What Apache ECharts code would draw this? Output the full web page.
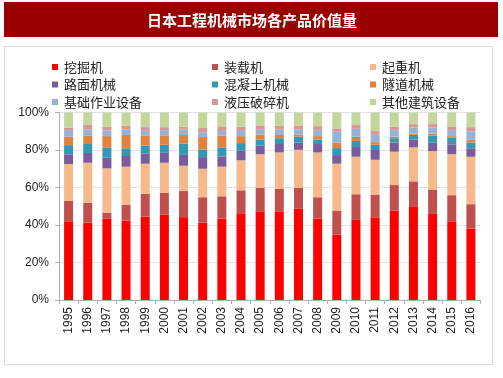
<!DOCTYPE html>
<html><head><meta charset="utf-8">
<script src="https://cdn.jsdelivr.net/npm/echarts@6/dist/echarts.min.js"></script>
<style>html,body{margin:0;padding:0;background:#fff}#c{width:503px;height:378px}</style>
</head><body><div id="c"></div>
<script>
const title = '日本工程机械市场各产品价值量';
const years = ['1995','1996','1997','1998','1999','2000','2001','2002','2003','2004','2005','2006','2007','2008','2009','2010','2011','2012','2013','2014','2015','2016'];
const yTicks = [0,20,40,60,80,100];
const names = ['挖掘机','装载机','起重机','路面机械','混凝土机械','隧道机械','基础作业设备','液压破碎机','其他建筑设备'];
const excavator = [42.0,41.3,43.3,42.3,44.5,45.6,44.2,41.3,43.4,46.3,47.3,47.0,48.6,43.4,34.8,42.7,44.1,47.7,50.0,45.9,42.0,38.1];
const loader    = [10.8,10.5, 3.3, 8.4,12.2,11.5,13.9,13.5,11.9,12.2,12.5,12.2,11.2,11.4,12.9,13.7,12.1,13.6,13.3,13.0,13.9,13.0];
const crane     = [19.7,21.4,23.6,20.4,16.0,16.1,13.5,15.2,15.8,16.0,17.9,19.5,20.3,23.9,25.0,20.0,18.6,17.8,18.1,20.5,21.9,25.3];
const paving    = [ 5.2, 5.2, 5.7, 5.7, 5.3, 5.3, 5.8, 6.2, 5.5, 5.3, 4.7, 4.5, 3.9, 4.5, 4.6, 5.2, 5.2, 4.9, 4.2, 4.6, 5.2, 4.5];
const concrete  = [ 4.9, 4.8, 5.3, 4.1, 4.4, 4.3, 6.0, 4.1, 4.8, 3.9, 3.2, 3.1, 3.1, 2.4, 3.7, 3.2, 2.8, 2.3, 2.5, 3.6, 3.5, 3.1];
const tunnel    = [ 4.5, 4.6, 6.2, 7.1, 5.4, 5.0, 4.6, 6.6, 6.2, 3.7, 2.7, 1.7, 1.2, 1.8, 3.0, 2.4, 1.4, 0.9, 0.7, 1.1, 0.9, 1.5];
const foundation= [ 3.5, 3.3, 3.0, 3.0, 2.4, 2.8, 2.9, 2.6, 2.6, 2.8, 2.8, 3.0, 2.8, 3.2, 5.7, 4.1, 3.9, 3.4, 3.2, 3.3, 3.2, 4.4];
const breaker   = [ 1.4, 2.5, 2.0, 2.0, 2.0, 1.6, 1.6, 2.2, 2.4, 2.2, 2.0, 1.9, 2.0, 2.1, 1.8, 2.0, 2.0, 1.8, 1.8, 1.8, 2.0, 2.3];
const other     = [ 8.0, 6.4, 7.6, 7.0, 7.8, 7.8, 7.5, 8.3, 7.4, 7.6, 6.9, 7.1, 6.9, 7.3, 8.5, 6.7, 9.9, 7.6, 6.2, 6.2, 7.4, 7.8];
const values = [excavator, loader, crane, paving, concrete, tunnel, foundation, breaker, other];
const colors = ['#FF0000','#C0504D','#F7B98B','#7A5B9B','#3399B3','#E2823F','#95B3D7','#D99694','#C3D69B'];

const chart = echarts.init(document.getElementById('c'), null, {renderer:'canvas'});
const legendBase = {
  orient:'vertical', top:60, itemWidth:6, itemHeight:6, itemGap:3.5, icon:'rect', itemStyle:{borderWidth:0},
  textStyle:{fontFamily:'Noto Sans CJK SC', fontSize:13, color:'#222', lineHeight:14, padding:[0,0,0,1]}, selectedMode:false, padding:0
};
chart.setOption({
  animation:false,
  backgroundColor:'#fff',
  graphic:[
    {type:'rect', shape:{x:4.5,y:46.5,width:488,height:318}, style:{fill:'none', stroke:'#dcdcdc', lineWidth:1}},
    {type:'rect', shape:{x:4,y:2,width:494,height:35}, style:{fill:'#9B0000'}},
    {type:'text', x:252, y:20, style:{text:title, fill:'#fff', font:'bold 15px "Noto Sans CJK SC"', align:'center', verticalAlign:'middle'}}
  ],
  legend:[
    Object.assign({}, legendBase, {left:52, data:[names[0],names[3],names[6]]}),
    Object.assign({}, legendBase, {left:212, data:[names[1],names[4],names[7]]}),
    Object.assign({}, legendBase, {left:370, data:[names[2],names[5],names[8]]})
  ],
  grid:{left:59, right:22.5, top:112.5, bottom:78, containLabel:false},
  xAxis:{type:'category', data:years, boundaryGap:true,
    axisLine:{lineStyle:{color:'#b0b0b0'}}, axisTick:{show:true, alignWithLabel:false, length:4, lineStyle:{color:'#b0b0b0'}},
    axisLabel:{rotate:90, fontFamily:'Liberation Sans', fontSize:12, color:'#222', margin:7, interval:0}},
  yAxis:{type:'value', min:yTicks[0], max:yTicks[yTicks.length-1], interval:20,
    axisLine:{show:true, lineStyle:{color:'#b0b0b0'}}, axisTick:{show:true, length:4, lineStyle:{color:'#b0b0b0'}},
    splitLine:{lineStyle:{color:'#e3e3e3'}},
    axisLabel:{formatter:'{value}%', fontFamily:'Liberation Sans', fontSize:12, color:'#222', margin:10}},
  series: names.map((n,i)=>({name:n, type:'bar', stack:'s', data:values[i], barWidth:9, itemStyle:{color:colors[i]}}))
});
</script></body></html>
